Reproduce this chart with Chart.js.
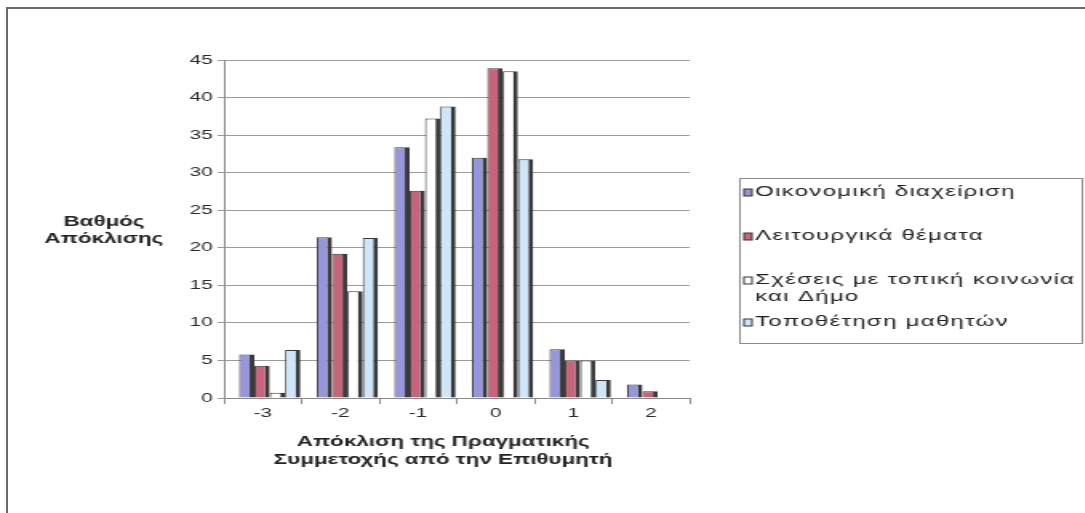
<!DOCTYPE html>
<html lang="el">
<head>
<meta charset="utf-8">
<title>Βαθμός Απόκλισης</title>
<script src="https://cdn.jsdelivr.net/npm/chart.js@4.4.1/dist/chart.umd.min.js"></script>
<style>
  html, body { margin: 0; padding: 0; background: #ffffff; overflow: hidden; }
  #page { position: relative; width: 1085px; height: 513px; }
  #frame { position: absolute; left: 6px; top: 7px; width: 1085px; height: 513px;
           border-left: 2px solid #6a6a6a; border-top: 2px solid #6a6a6a; }
  /* the chart is laid out narrow and widened horizontally, like the wide lettering of the page */
  #wrap { position: absolute; left: 0; top: 0; width: 678px; height: 513px;
          transform: scaleX(1.6); transform-origin: 0 0; }
</style>
</head>
<body>
<div id="page">
  <div id="frame"></div>
  <div id="wrap"><canvas id="c" width="678" height="513"></canvas></div>
</div>
<script>
// Deviation of actual from desired participation (categories on the x axis)
const categories = ['-3', '-2', '-1', '0', '1', '2'];

// Degree of deviation per area
const financialManagement = [5.8, 21.4, 33.4, 32.0, 6.5, 1.8];
const operationalIssues   = [4.3, 19.2, 27.6, 43.9, 5.0, 0.9];
const communityRelations  = [0.7, 14.2, 37.2, 43.5, 5.0, 0];
const studentPlacement    = [6.4, 21.3, 38.8, 31.8, 2.4, 0];

const seriesNames = [
  'Οικονομική διαχείριση',
  'Λειτουργικά θέματα',
  'Σχέσεις με τοπική κοινωνία και Δήμο',
  'Τοποθέτηση μαθητών'
];

const yTitleLines = ['Βαθμός', 'Απόκλισης'];
const xTitleLines = ['Απόκλιση της Πραγματικής', 'Συμμετοχής από την Επιθυμητή'];

const FONT = "'Liberation Sans', Arial, sans-serif";
const EDGE = '#3a3a3a';
// bars sit slightly to the right of their category centre (depth of the 3-D floor)
const DEPTH_SHIFT = 0.09;

function barSet(label, values, color) {
  return {
    label,
    data: values.map((v, i) => ({ x: Number(categories[i]), y: v })),
    xAxisID: 'xb',
    backgroundColor: color,
    borderColor: EDGE,
    borderWidth: { top: 1, left: 1, right: 3, bottom: 0 },
    borderSkipped: 'bottom',
    categoryPercentage: 0.79,
    barPercentage: 1.0
  };
}

// Word-wraps a legend entry into lines no wider than maxWidth
function wrapText(ctx, text, maxWidth) {
  const words = text.split(' ');
  const lines = [];
  let line = '';
  for (const w of words) {
    const test = line ? line + ' ' + w : w;
    if (ctx.measureText(test).width > maxWidth && line) {
      lines.push(line);
      line = w;
    } else {
      line = test;
    }
  }
  if (line) lines.push(line);
  return lines;
}

// Axis titles (horizontal y title) and the boxed legend on the right
const decorations = {
  id: 'decorations',
  afterDraw(chart) {
    const ctx = chart.ctx;
    const area = chart.chartArea;
    ctx.save();

    // y axis title, written horizontally to the left of the axis
    ctx.font = 'bold 14px ' + FONT;
    ctx.fillStyle = '#222';
    ctx.textAlign = 'center';
    ctx.textBaseline = 'alphabetic';
    const yx = area.left - 75;
    ctx.fillText(yTitleLines[0], yx, 226);
    ctx.fillText(yTitleLines[1], yx, 243);

    // x axis title, two lines below the category labels
    const xx = area.left + 137;
    ctx.fillText(xTitleLines[0], xx, 446);
    ctx.fillText(xTitleLines[1], xx, 464);

    // legend box
    const boxL = 462, boxT = 178, boxR = 676, boxB = 343;
    ctx.strokeStyle = '#8c8c8c';
    ctx.lineWidth = 1;
    ctx.strokeRect(boxL + 0.5, boxT + 0.5, boxR - boxL, boxB - boxT);

    ctx.font = '15px ' + FONT;
    ctx.letterSpacing = '0.8px';
    ctx.textAlign = 'left';
    ctx.textBaseline = 'middle';
    const rowY = [192, 236, 280, 322];
    chart.data.datasets.forEach((ds, i) => {
      const y = rowY[i];
      ctx.fillStyle = ds.backgroundColor;
      ctx.fillRect(boxL + 3, y - 3, 5, 7);
      ctx.strokeStyle = '#333';
      ctx.strokeRect(boxL + 3, y - 3, 5, 7);
      ctx.fillStyle = '#222';
      const lines = wrapText(ctx, ds.label, 204);
      lines.forEach((ln, k) => ctx.fillText(ln, boxL + 10, y + k * 17));
    });
    ctx.letterSpacing = '0px';
    ctx.restore();
  }
};

new Chart(document.getElementById('c'), {
  type: 'bar',
  data: {
    datasets: [
      barSet(seriesNames[0], financialManagement, '#9696dc'),
      barSet(seriesNames[1], operationalIssues, '#c8647a'),
      barSet(seriesNames[2], communityRelations, '#ffffff'),
      barSet(seriesNames[3], studentPlacement, '#cde6fa')
    ]
  },
  options: {
    responsive: false,
    animation: false,
    devicePixelRatio: 1,
    layout: { padding: { top: 60, right: 247, left: 0, bottom: 0 } },
    plugins: {
      legend: { display: false },
      tooltip: { enabled: false }
    },
    scales: {
      // category axis carrying the labels and tick marks
      x: {
        type: 'category',
        labels: categories,
        offset: true,
        grid: { offset: true, drawOnChartArea: false, tickLength: 6, color: '#8a8a8a' },
        border: { color: '#8a8a8a' },
        ticks: { font: { family: FONT, size: 13 }, color: '#2a2a2a', padding: 2 },
        afterFit(scale) { scale.height = 115; }
      },
      // numeric axis the bars are placed on
      xb: {
        type: 'linear',
        display: false,
        position: 'bottom',
        offset: false,
        min: Number(categories[0]) - 0.5 - DEPTH_SHIFT,
        max: Number(categories[categories.length - 1]) + 0.5 - DEPTH_SHIFT
      },
      y: {
        min: 0,
        max: 45,
        ticks: { stepSize: 5, font: { family: FONT, size: 13 }, color: '#2a2a2a', padding: 3 },
        grid: { color: '#9a9a9a', tickLength: 4 },
        border: { color: '#8a8a8a' },
        afterFit(scale) { scale.width = 140; }
      }
    }
  },
  plugins: [decorations]
});
</script>
</body>
</html>
